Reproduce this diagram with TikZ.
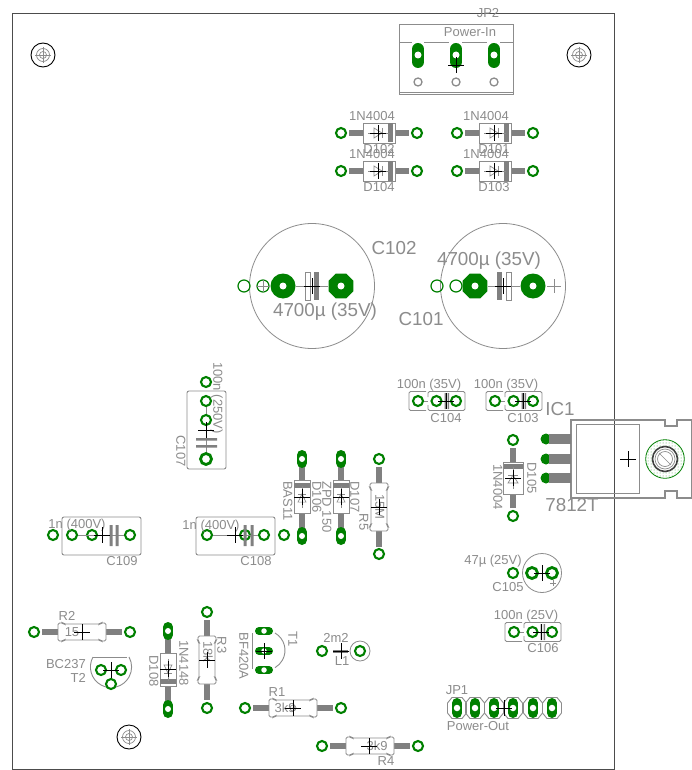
\documentclass[tikz,border=0pt]{standalone}
\usepackage{fontspec}
\setmainfont{Liberation Sans}
\usetikzlibrary{patterns,shapes.geometric}
\definecolor{pcbgreen}{HTML}{008000}
\definecolor{silk}{HTML}{8C8C8C}
\definecolor{barcol}{HTML}{808080}
\tikzset{
  padring/.style={circle,draw=pcbgreen,line width=2.1pt,fill=white,minimum size=10pt,inner sep=0pt},
  bigring/.style={padring,line width=2.8pt,minimum size=11pt},
  thinring/.style={padring,line width=1.2pt,minimum size=12pt,fill=none},
  grayring/.style={circle,draw=silk,line width=1.3pt,fill=white,minimum size=8pt,inner sep=0pt},
  drill/.style={circle,fill=white,inner sep=0pt,minimum size=7pt},
  outline/.style={draw=silk,line width=.9pt},
  lead/.style={draw=barcol,line width=5.5pt},
  wire/.style={draw=silk,line width=.7pt},
  crossmark/.style={draw=black,line width=.7pt},
  lbl/.style={text=silk,font=\fontsize{13}{13}\selectfont,inner sep=0pt,text height=.72em,text depth=0pt},
  biglbl/.style={lbl,font=\fontsize{18.8}{18.8}\selectfont},
  diode/.pic={
    \draw[lead] (-30,0) -- (-16,0) (16,0) -- (30,0);
    \draw[outline,fill=white] (-16,-10) rectangle (16,10);
    \fill[barcol] (9,-9.5) rectangle (14,9.5);
    \draw[wire] (-11,0) -- (11,0);
    \draw[wire] (-5,-5) -- (-5,5) -- (3,0) -- cycle;
    \draw[wire] (3,-5) -- (3,5);
  },
  resistor/.pic={
    \draw[lead] (-40,0) -- (-24,0) (24,0) -- (40,0);
    \draw[outline,fill=white,rounded corners=1.5pt] (-24,-9) -- (-19,-9) -- (-18,-8) -- (18,-8)
      -- (19,-9) -- (24,-9) -- (24,9) -- (19,9) -- (18,8) -- (-18,8) -- (-19,9) -- (-24,9) -- cycle;
  },
  bighole/.pic={
    \draw[black,line width=.9pt,fill=white] (0,0) circle (12);
    \draw[silk,line width=.7pt] (0,0) circle (6.5) (0,0) circle (3.5);
    \draw[silk,line width=.7pt] (-8,0) -- (8,0) (0,-8) -- (0,8);
  },
  smallcap/.pic={
    % left bracket and right box of a film capacitor
    \draw[outline,rounded corners=1.5pt] (-20,-9.5) -- (-37,-9.5) -- (-37,9.5) -- (-20,9.5);
    \draw[outline,rounded corners=1.5pt] (-18,-4) -- (-18,-9.5) -- (19,-9.5) -- (19,9.5) -- (-18,9.5) -- (-18,4);
    \draw[wire] (-23,0) -- (-18,0);
    \draw[wire] (-9,0) -- (10,0);
    \fill[barcol] (-1.5,-8) rectangle (.2,8) (1.5,-8) rectangle (3.2,8);
  },
}
\begin{document}
\begin{tikzpicture}[x=1pt,y=-1pt]
\useasboundingbox (0,0) rectangle (692,770);
\fill[white] (0,0) rectangle (692,770);
% the board edge
\draw[draw=black!70,line width=1pt] (12,14) rectangle (614,769);
% mounting holes
\pic at (43,55) {bighole};
\pic at (579,55) {bighole};
\pic at (129,737) {bighole};

% JP2, the input connector
\draw[outline] (399,24) rectangle (513,94);
\draw[outline] (399,92) -- (513,92);
\draw[outline] (399,42) -- (412,42) (424,42) -- (449,42) (462,42) -- (487,42) (500,42) -- (513,42);
\foreach \x in {418,456,494} {
  \draw[pcbgreen,line width=12pt,line cap=round] (\x,49) -- (\x,62);
  \node[drill] (jp2pad\x) at (\x,55) {};
  \node[grayring] (jp2ring\x) at (\x,82) {};
}
\node[lbl] (jp2name) at (488,14) {JP2};
\node[lbl] (jp2value) at (470,33) {Power-In};

% the four rectifier diodes
\foreach \n/\x/\y in {d102/379/133,d101/495/133,d104/379/171,d103/495/171} {
  \pic at (\x,\y) {diode};
  \node[padring] (\n a) at ({\x-38},\y) {};
  \node[padring] (\n b) at ({\x+38},\y) {};
}
\node[lbl] (d102value) at (372,117) {1N4004};
\node[lbl] (d102name) at (379,150) {D102};
\node[lbl] (d101value) at (486,117) {1N4004};
\node[lbl] (d101name) at (494,150) {D101};
\node[lbl] (d104value) at (372,155) {1N4004};
\node[lbl] (d104name) at (379,188) {D104};
\node[lbl] (d103value) at (486,155) {1N4004};
\node[lbl] (d103name) at (494,188) {D103};

% the two big capacitors
\draw[silk,line width=.8pt] (312,286) circle (62.5);
\draw[silk,line width=.8pt] (503,286) circle (62.5);
\node[thinring] (c102c) at (244,286) {};
\node[thinring] (c102d) at (263,286) {};
\node[thinring] (c101c) at (437,286) {};
\node[thinring] (c101d) at (456,286) {};
\draw[silk,line width=.8pt] (256,286) -- (270,286) (263,280) -- (263,292);
\node[circle,fill=pcbgreen,minimum size=25pt,inner sep=0pt] (c102a) at (283,286) {};
\node[regular polygon,regular polygon sides=8,fill=pcbgreen,minimum size=27pt,inner sep=0pt] (c102b) at (341,286) {};
\node[regular polygon,regular polygon sides=8,fill=pcbgreen,minimum size=27pt,inner sep=0pt] (c101a) at (475,286) {};
\node[circle,fill=pcbgreen,minimum size=25pt,inner sep=0pt] (c101b) at (533,286) {};
\draw[wire] (c102a) -- (c102b);
\draw[wire] (c101a) -- (c101b);
\foreach \n in {c102a,c102b,c101a,c101b}
  \fill[white] (\n.center) circle (3.5);
\draw[outline,fill=white] (305,272) rectangle (310,300);
\fill[barcol] (314,272) rectangle (319,300);
\fill[barcol] (497,272) rectangle (502,300);
\draw[outline,fill=white] (506,272) rectangle (511,300);
\draw[silk,line width=.8pt] (547,286) -- (561,286) (554,279) -- (554,293);
\node[biglbl] (c102name) at (394,251) {C102};
\node[biglbl] (c102value) at (325,313) {4700µ (35V)};
\node[biglbl] (c101name) at (421,322) {C101};
\node[biglbl] (c101value) at (489,262) {4700µ (35V)};

% the small film capacitors
\foreach \n/\x/\y in {c104/446/401,c103/523/401,c106/542/632} {
  \pic at (\x,\y) {smallcap};
  \node[padring] (\n a) at ({\x-28},\y) {};
  \node[padring] (\n b) at ({\x-9.5},\y) {};
  \node[padring] (\n c) at ({\x+10},\y) {};
}
\node[lbl] (c104value) at (429,385) {100n (35V)};
\node[lbl] (c104name) at (446,419) {C104};
\node[lbl] (c103value) at (506,385) {100n (35V)};
\node[lbl] (c103name) at (523,419) {C103};
\node[lbl] (c106value) at (526,616) {100n (25V)};
\node[lbl] (c106name) at (543,649) {C106};

% IC1 with its heat sink tab
\draw[outline,line width=1.1pt] (571,420) -- (665,420) -- (665,426) -- (677,426) -- (677,420) -- (691.4,420)
  -- (691.4,498) -- (677,498) -- (677,491) -- (665,491) -- (665,498) -- (571,498) -- cycle;
\draw[silk,line width=.7pt] (576,424) rectangle (639,493);
\foreach \y in {439,459,478} {
  \fill[pcbgreen] (546,\y) circle (5.5);
  \draw[barcol,line width=10pt] (549,\y) -- (571,\y);
}
\fill[white] (665,459) circle (19.3);
\fill[pattern=dots,pattern color=pcbgreen!70] (665,459) circle (19.3);
\draw[pcbgreen,line width=.8pt] (665,459) circle (19.3);
\draw[black!75,line width=1.6pt,fill=white] (665,459) circle (12.5);
\draw[silk,line width=.7pt] (665,459) circle (10) (665,459) circle (7.5);
\draw[silk,line width=.6pt] (659,453) -- (671,465);
\node[biglbl] (ic1name) at (560,412) {IC1};
\node[biglbl] (ic1value) at (572,508) {7812T};

% D105
\pic[rotate=90,yscale=1] at (513,478) {diode};
\node[padring] (d105a) at (513,440) {};
\node[padring] (d105b) at (513,516) {};
\node[lbl,rotate=-90] (d105name) at (531,478) {D105};
\node[lbl,rotate=-90] (d105value) at (497,487) {1N4004};

% C105
\draw[silk,line width=.8pt] (542,573) circle (19.5);
\node[padring] (c105c) at (513,573) {};
\node[bigring] (c105a) at (532,573) {};
\node[bigring] (c105b) at (552,573) {};
\draw[silk,line width=.7pt] (550,583) -- (556,583) (553,580) -- (553,586);
\node[lbl] (c105value) at (493,561) {47µ (25V)};
\node[lbl] (c105name) at (508,588) {C105};

% C107
\draw[outline,rounded corners=2pt] (187,391) rectangle (226,469);
\draw[wire] (206,401) -- (206,459);
\fill[barcol] (196,438) rectangle (217,440.5) (196,445) rectangle (217,447.5);
\node[padring] (c107a) at (206,382) {};
\node[padring] (c107b) at (206,401) {};
\node[padring] (c107c) at (206,420) {};
\node[bigring] (c107d) at (206,459) {};
\node[lbl,rotate=-90] (c107value) at (217,398) {100n (250V)};
\node[lbl,rotate=-90] (c107name) at (180,451) {C107};

% D106 and D107, upright
\foreach \n/\x in {d106/302,d107/341} {
  \pic[rotate=90,xscale=1.02,yscale=.8] at (\x,497) {diode};
  \draw[pcbgreen,line width=10pt,line cap=round] (\x,455) -- (\x,463) (\x,532) -- (\x,540);
  \node[circle,fill=white,inner sep=0pt,minimum size=6pt] (\n a) at (\x,459) {};
  \node[circle,fill=white,inner sep=0pt,minimum size=6pt] (\n b) at (\x,536) {};
}
\node[lbl,rotate=-90] (d106name) at (316,497) {D106};
\node[lbl,rotate=-90] (d106value) at (287,501) {BAS11};
\node[lbl,rotate=-90] (d107name) at (354,497) {D107};
\node[lbl,rotate=-90] (d107value) at (326,507) {ZPD 150};

% R5
\pic[rotate=90] at (379,507) {resistor};
\node[padring] (r5a) at (379,459) {};
\node[padring] (r5b) at (379,554) {};
\node[lbl,rotate=-90] (r5name) at (363,522) {R5};
\node[lbl,rotate=-90] (r5value) at (379,507) {15M};

% C108 and C109, the 400V pair
\foreach \n/\x/\a/\b/\c/\d in {c108/0/207/245/264/284,c109/-134/53/72/92/130} {
  \draw[outline,rounded corners=2pt] ({196+\x},517) rectangle ({275+\x},555);
  \node[padring] (\n a) at (\a,535) {};
  \node[padring] (\n b) at (\b,535) {};
  \node[padring] (\n c) at (\c,535) {};
  \node[padring] (\n d) at (\d,535) {};
}
\draw[wire] (c108a) -- (c108c);
\draw[wire] (c109b) -- (c109d);
\fill[barcol] (243.5,525) rectangle (246.5,546) (250.5,525) rectangle (253.5,546);
\fill[barcol] (109.5,525) rectangle (112.5,546) (115.5,525) rectangle (118.5,546);
\node[lbl] (c108value) at (211,526) {1n (400V)};
\node[lbl] (c108name) at (256,562) {C108};
\node[lbl] (c109value) at (77,525) {1n (400V)};
\node[lbl] (c109name) at (122,562) {C109};

% R2
\pic at (82,632) {resistor};
\node[padring] (r2a) at (34,632) {};
\node[padring] (r2b) at (130,632) {};
\node[lbl] (r2name) at (67,617) {R2};
\node[lbl] (r2value) at (72,633) {15};

% T2
\draw[outline] (93,657) -- (127,657);
\draw[outline] (93,657) arc[start angle=209,end angle=-29,radius=20.6];
\node[padring] (t2a) at (101,670) {};
\node[padring] (t2b) at (121,670) {};
\node[padring] (t2c) at (111,684) {};
\draw[wire] (t2a) -- (t2b);
\node[lbl,anchor=east] (t2value) at (86,665) {BC237};
\node[lbl,anchor=east] (t2name) at (86,679) {T2};

% D108
\pic[rotate=-90,xscale=1.02,yscale=.8] at (168,670) {diode};
\draw[pcbgreen,line width=10pt,line cap=round] (168,627) -- (168,635) (168,705) -- (168,713);
\node[circle,fill=white,inner sep=0pt,minimum size=6pt] (d108a) at (168,631) {};
\node[circle,fill=white,inner sep=0pt,minimum size=6pt] (d108b) at (168,709) {};
\node[lbl,rotate=-90] (d108name) at (153,671) {D108};
\node[lbl,rotate=-90] (d108value) at (183,663) {1N4148};

% R3
\pic[rotate=90] at (207,660) {resistor};
\node[padring] (r3a) at (207,612) {};
\node[padring] (r3b) at (207,708) {};
\node[lbl,rotate=-90] (r3name) at (221,645) {R3};
\node[lbl,rotate=-90] (r3value) at (207,652) {18k};

% T1
\draw[outline] (275,633) arc[start angle=-60,end angle=60,radius=20];
\draw[outline] (252,633) -- (252,669);
\foreach \n/\y in {t1a/631,t1b/651,t1c/670} {
  \draw[pcbgreen,line width=8pt,line cap=round] (259,\y) -- (269,\y);
  \node[circle,fill=white,inner sep=0pt,minimum size=5.5pt] (\n) at (264,\y) {};
}
\node[lbl,rotate=-90] (t1name) at (292,639) {T1};
\node[lbl,rotate=-90] (t1value) at (243,656) {BF420A};

% L1
\draw[silk,line width=.8pt] (360,651) circle (10);
\node[padring] (l1a) at (322,651) {};
\node[padring] (l1b) at (360,651) {};
\draw[draw=barcol,line width=3pt] (333,651) -- (348,651);
\node[lbl] (l1value) at (336,639) {2m2};
\node[lbl] (l1name) at (342,662) {L1};

% R1 and R4
\pic at (293,708) {resistor};
\node[padring] (r1a) at (245,708) {};
\node[padring] (r1b) at (341,708) {};
\draw[silk,line width=.7pt] (293,708) circle (3);
\node[lbl] (r1name) at (277,693) {R1};
\node[lbl] (r1value) at (285,709) {3k9};
\pic at (370,746) {resistor};
\node[padring] (r4a) at (322,746) {};
\node[padring] (r4b) at (418,746) {};
\node[lbl] (r4name) at (386,762) {R4};
\node[lbl] (r4value) at (377,747) {3k9};

% JP1, the output header
\foreach \x in {457,475,494,513,533,552} {
  \draw[outline] ({\x-9.5},703) -- ({\x-5},697.5) -- ({\x+5},697.5) -- ({\x+9.5},703)
    -- ({\x+9.5},713) -- ({\x+5},718.5) -- ({\x-5},718.5) -- ({\x-9.5},713) -- cycle;
  \draw[pcbgreen,line width=10pt,line cap=round] (\x,703) -- (\x,713);
  \node[circle,fill=white,inner sep=0pt,minimum size=6.5pt] (jp1pad\x) at (\x,708) {};
}
\node[lbl] (jp1name) at (457,691) {JP1};
\node[lbl] (jp1value) at (478,727) {Power-Out};

% the origin crosses
\foreach \x/\y in {456/65,378/133,494/133,378/171,494/171,312/286,503/286,446/401,523/401,628/459,513/478,
  206/430,302/497,341/497,379/507,235/535,102/535,82/632,111/670,168/669,207/660,264/651,341/651,293/708,369/746,
  504/708,541/632,542/573}
  \draw[crossmark] ({\x-8},\y) -- ({\x+8},\y) ({\x},{\y-8}) -- ({\x},{\y+8});
\end{tikzpicture}
\end{document}
